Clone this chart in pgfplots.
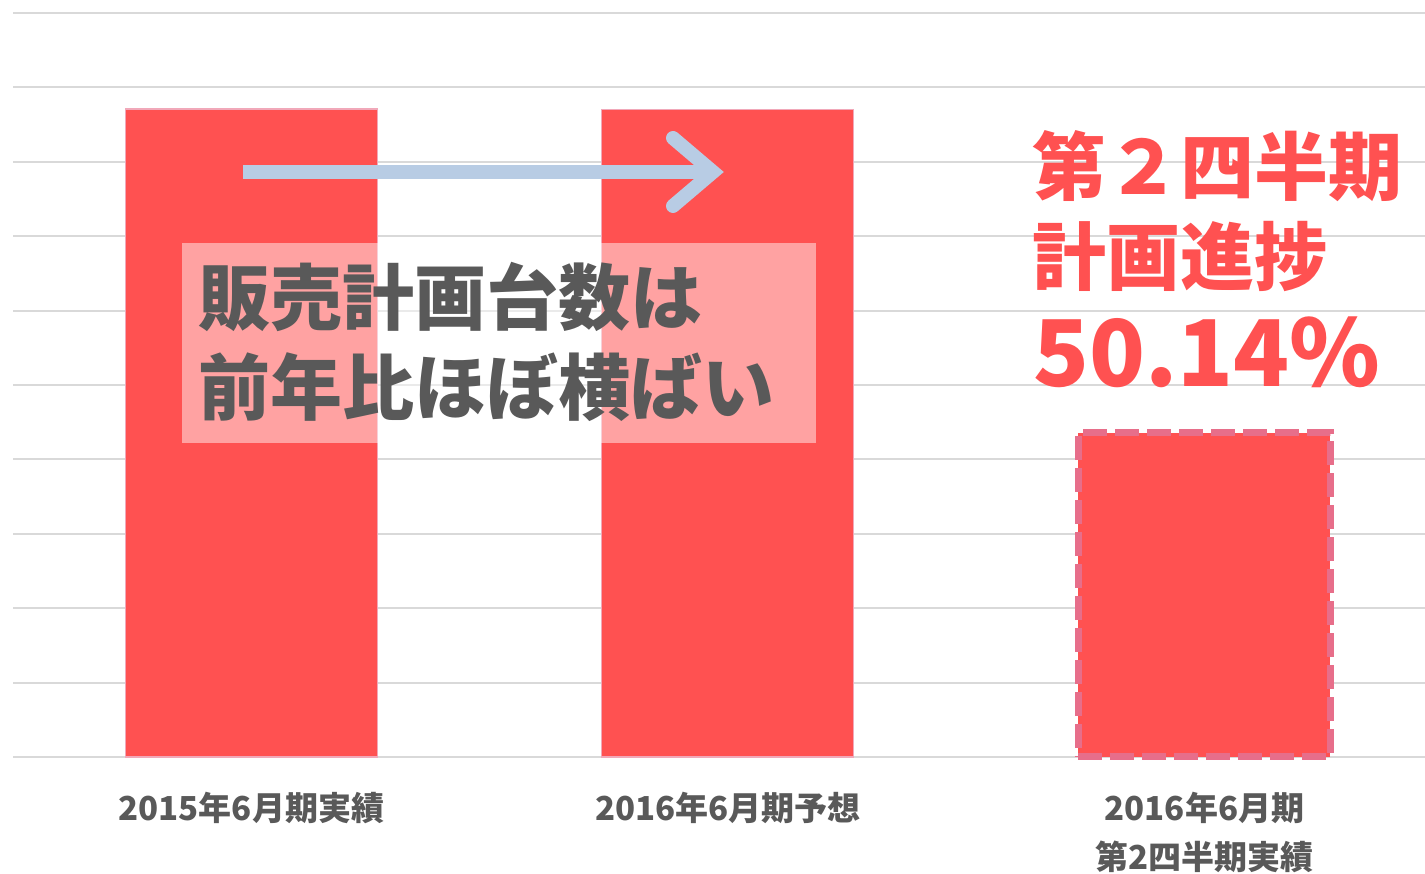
\documentclass[border=0pt]{standalone}
\usepackage{pgfplots}
\pgfplotsset{compat=1.18}
\usepackage{fontspec}
\setmainfont{Noto Sans CJK JP}
\definecolor{barred}{HTML}{FF5151}
\definecolor{edgepink}{HTML}{E76E8A}
\definecolor{gridgray}{HTML}{D9D9D9}
\definecolor{txtgray}{HTML}{595959}
\definecolor{arrowblue}{HTML}{B8CCE4}
\begin{document}
\begin{tikzpicture}[x=1pt,y=1pt]
\begin{axis}[
  at={(0pt,0pt)}, anchor=south west,
  scale only axis, width=1412pt, height=744pt,
  xmin=-0.5, xmax=2.463, ymin=0, ymax=10,
  axis line style={draw=none},
  ytick={0,1,...,10}, yticklabels={},
  ymajorgrids, grid style={gridgray, line width=2pt},
  major tick length=0pt,
  xtick={0,1,2},
  xticklabels={2015年6月期実績, 2016年6月期予想, {2016年6月期\\第2四半期実績}},
  xticklabel style={align=center, font=\bfseries\fontsize{33}{49}\selectfont, text=txtgray, inner sep=0pt, yshift=-35pt},
  ybar, bar width=252pt,
  clip=false,
]
\addplot[fill=barred, draw=edgepink!60, line width=1.2pt, bar shift=0pt] coordinates {(0,8.71) (1,8.70)};
\addplot[fill=barred, draw=edgepink, line width=7pt, dash pattern=on 24pt off 8pt, bar shift=0pt] coordinates {(2,4.36)};
\end{axis}
\fill[white, fill opacity=0.47] (169,314) rectangle (803,514);
\node[anchor=base west, inner sep=0pt, text=txtgray, font=\bfseries\fontsize{72}{90}\selectfont] at (185,432) {販売計画台数は};
\node[anchor=base west, inner sep=0pt, text=txtgray, font=\bfseries\fontsize{72}{90}\selectfont] at (185,342) {前年比ほぼ横ばい};
\draw[arrowblue, line width=14pt] (230,585) -- (700,585);
\draw[arrowblue, line width=14pt, line cap=round, line join=miter] (660,619) -- (700,585) -- (660,551);
\node[anchor=base west, inner sep=0pt, text=barred, font=\bfseries\fontsize{74}{90}\selectfont] at (1019,562) {第２四半期};
\node[anchor=base west, inner sep=0pt, text=barred, font=\bfseries\fontsize{74}{90}\selectfont] at (1019,472) {計画進捗};
\node[anchor=base west, inner sep=0pt, text=barred, font=\bfseries\fontsize{92}{90}\selectfont] at (1020,370) {50.14\%};
\pgfresetboundingbox
\useasboundingbox (-13,-117) rectangle (1412,757);
\end{tikzpicture}
\end{document}
